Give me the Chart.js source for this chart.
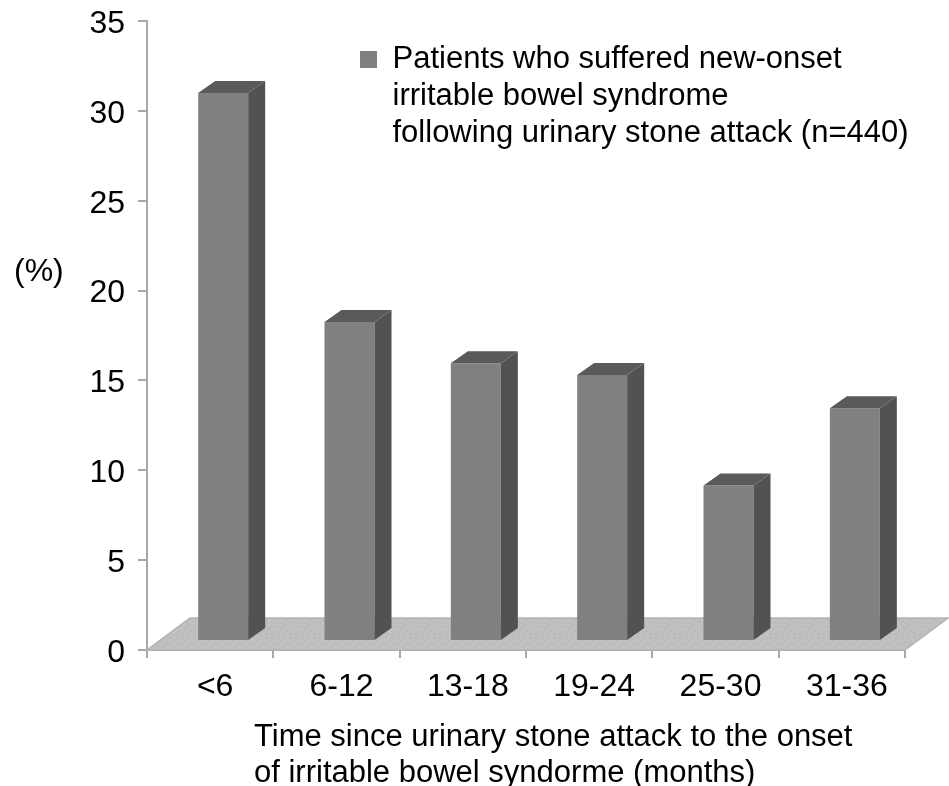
<!DOCTYPE html>
<html><head><meta charset="utf-8">
<style>html,body{margin:0;padding:0;background:#fff}#w{width:949px;height:786px;position:relative}</style>
<script src="https://cdn.jsdelivr.net/npm/chart.js@4"></script></head>
<body><div id="w"><canvas id="c" width="949" height="786"></canvas></div>
<script>
const categories = ['<6','6-12','13-18','19-24','25-30','31-36'];
const values = [31.0,18.25,15.95,15.3,9.15,13.45];
const floorLevel = 0.56;
const yTicks = [0,5,10,15,20,25,30,35];
const legendLines = ['Patients who suffered new-onset','irritable bowel syndrome','following urinary stone attack (n=440)'];
const xTitleLines = ['Time since urinary stone attack to the onset','of irritable bowel syndorme (months)'];
const yTitle = '(%)';
const FONT = '"Liberation Sans", Arial, sans-serif';
const AXIS='#a8a8a8', FRONT='#808080', SIDE='#525252', TOP='#5a5a5a';
const BAR_SHIFT=13, DX=17, DY=12, FX=43, FY=32;

function floorPattern(ctx){
  const p=document.createElement('canvas');p.width=p.height=12;
  const g=p.getContext('2d');g.fillStyle='#bfbfbf';g.fillRect(0,0,12,12);
  g.fillStyle='#b6b6b6';[[1,1],[7,2],[4,5],[10,7],[2,9],[7,10]].forEach(a=>g.fillRect(a[0],a[1],2,1));
  g.fillStyle='#c6c6c6';[[4,0],[0,4],[8,5],[5,8],[10,10]].forEach(a=>g.fillRect(a[0],a[1],2,1));
  return ctx.createPattern(p,'repeat');
}
const scene3d={id:'scene3d',
  afterLayout(ch){
    const l=ch.legend; l.left=346;l.top=30;l.right=l.left+l.width;l.bottom=l.top+l.height;
  },
  beforeDatasetsDraw(ch){
    const c=ch.ctx,a=ch.chartArea,b=ch.scales.y.getPixelForValue(0);
    c.save();c.fillStyle=floorPattern(c);c.strokeStyle='#b4b4b4';c.lineWidth=1.5;
    c.beginPath();c.moveTo(a.left,b);c.lineTo(a.right,b);c.lineTo(a.right+FX,b-FY);c.lineTo(a.left+FX,b-FY);c.closePath();c.fill();c.stroke();
    c.restore();
  },
  beforeDatasetDraw(ch){ch.ctx.save();ch.ctx.translate(BAR_SHIFT,0);},
  afterDatasetDraw(ch,args){
    const c=ch.ctx;
    args.meta.data.forEach(e=>{
      const L=e.x-e.width/2,R=e.x+e.width/2,T=e.y,B=e.base;
      c.fillStyle=SIDE;c.beginPath();c.moveTo(R,T);c.lineTo(R+DX,T-DY);c.lineTo(R+DX,B-DY);c.lineTo(R,B);c.closePath();c.fill();
      c.fillStyle=TOP;c.beginPath();c.moveTo(L,T);c.lineTo(L+DX,T-DY);c.lineTo(R+DX,T-DY);c.lineTo(R,T);c.closePath();c.fill();
    });
    c.restore();
  },
  afterDraw(ch){
    const c=ch.ctx;c.save();c.fillStyle='#000';c.textBaseline='alphabetic';c.textAlign='left';
    c.font='32px '+FONT;
    c.fillText(yTitle,14,281);
    c.font='31px '+FONT;
    xTitleLines.forEach((t,i)=>c.fillText(t,254,746+i*36));
    c.restore();
  }
};
new Chart(document.getElementById('c'),{
  type:'bar',
  data:{labels:categories,datasets:[{label:legendLines.join(' '),data:values.map(v=>[floorLevel,v]),backgroundColor:FRONT,borderWidth:0,categoryPercentage:1,barPercentage:50/126.33}]},
  plugins:[scene3d],
  options:{responsive:false,animation:false,
    layout:{padding:{left:0,right:44,top:21,bottom:0}},
    plugins:{tooltip:{enabled:false},
      legend:{position:'chartArea',align:'start',
        labels:{boxWidth:17,boxHeight:17,padding:14,color:'#000',font:{family:FONT,size:31,lineHeight:37/31},
          generateLabels:()=>[{text:legendLines,fillStyle:FRONT,strokeStyle:FRONT,lineWidth:0,datasetIndex:0}]}}},
    scales:{
      x:{grid:{drawOnChartArea:false,color:AXIS,tickLength:8,lineWidth:2,offset:true},border:{color:AXIS,width:2},
        ticks:{color:'#000',font:{family:FONT,size:32},padding:10,labelOffset:5,maxRotation:0,autoSkip:false},
        afterFit(s){s.height=136;s.paddingLeft=0;s.paddingRight=0;}},
      y:{min:0,max:35,grid:{drawOnChartArea:false,color:AXIS,tickLength:9,lineWidth:2},border:{color:AXIS,width:2},
        afterBuildTicks(s){s.ticks=yTicks.map(v=>({value:v}));},
        ticks:{color:'#000',font:{family:FONT,size:32},padding:13,labelOffset:3},
        afterFit(s){s.width=147;s.paddingTop=0;s.paddingBottom=0;}}
    }}
});
</script></body></html>
